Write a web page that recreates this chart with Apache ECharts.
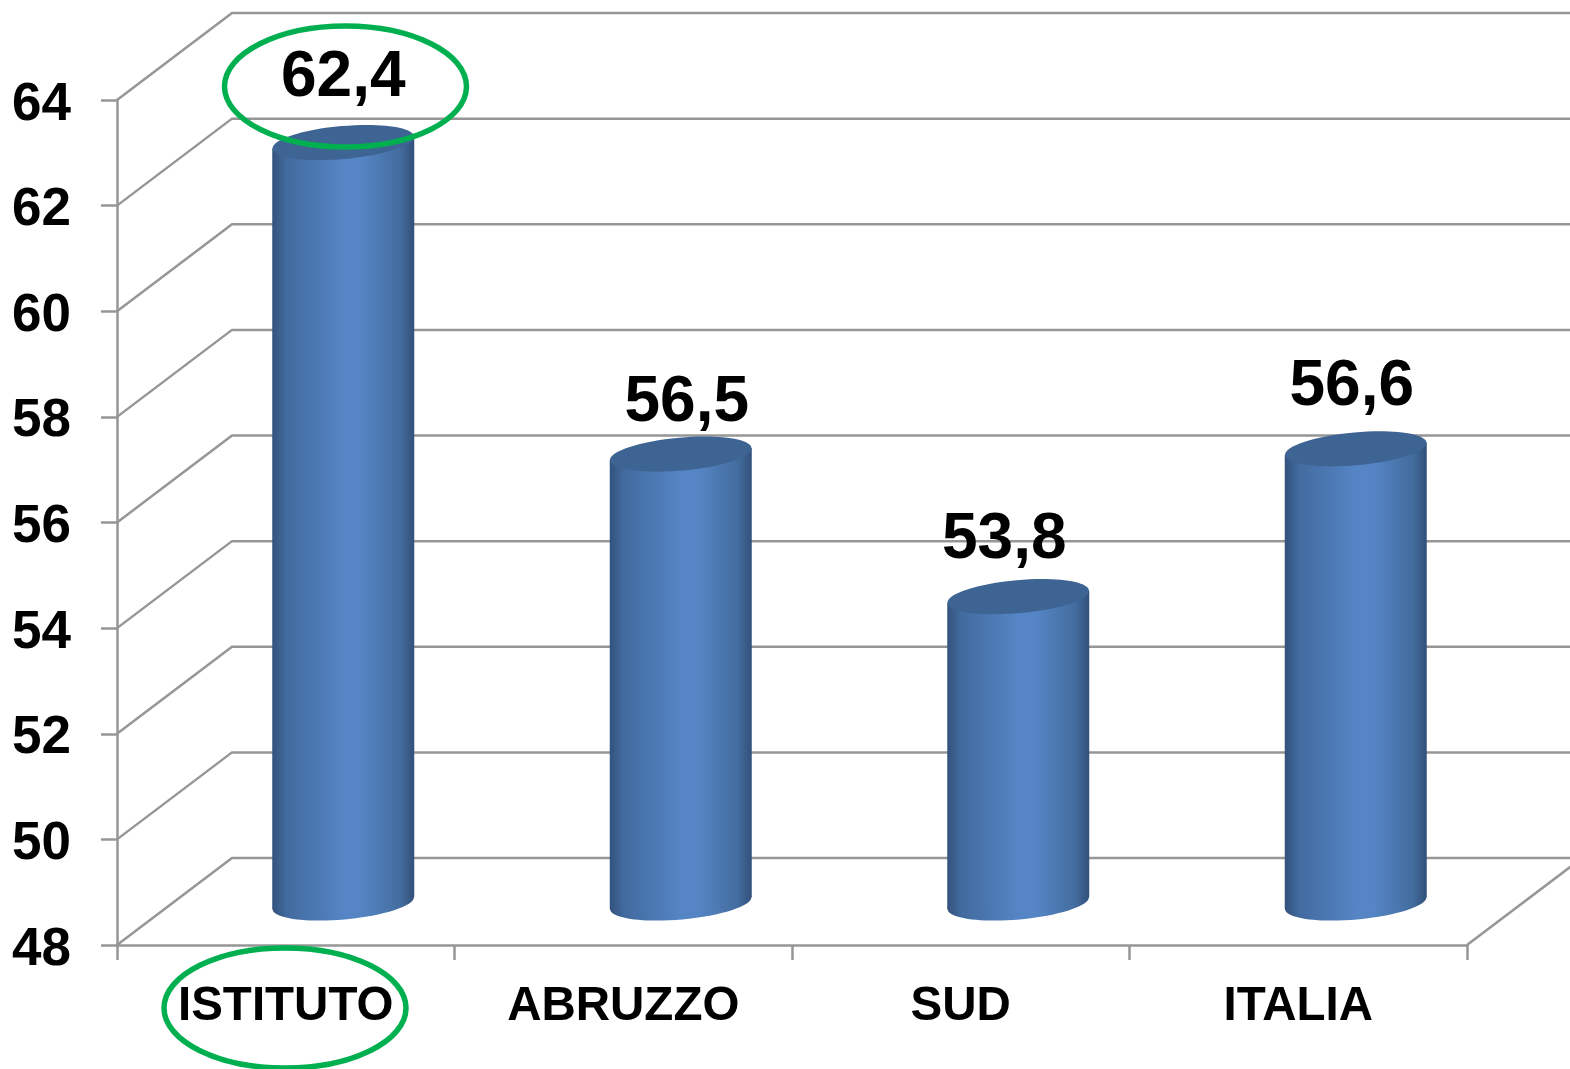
<!DOCTYPE html>
<html>
<head>
<meta charset="utf-8">
<style>html,body{margin:0;padding:0;background:#fff}#c{width:1570px;height:1069px}</style>
<script src="https://cdn.jsdelivr.net/npm/echarts@6/dist/echarts.min.js"></script>
</head>
<body>
<div id="c"></div>
<script>
const categories = ['ISTITUTO', 'ABRUZZO', 'SUD', 'ITALIA'];
const values = [62.4, 56.5, 53.8, 56.6];
const yTicks = [48, 50, 52, 54, 56, 58, 60, 62, 64];
const labelShiftX = [0, 6, -14, -4];
const labelShiftY = [-64, -51, -56, -61];

const FONT = '"Liberation Sans", Arial, sans-serif';
const GRID = '#969696';
const DEPTH_X = 115, DEPTH_Y = -87;
const BAR_DX = 57.5, BAR_DY = -42;
const RX = 71, RY = 16.5, TILT = 5 * Math.PI / 180;

const sideGradient = () => new echarts.graphic.LinearGradient(0, 0, 1, 0, [
  { offset: 0, color: '#33527d' },
  { offset: 0.1, color: '#426b9f' },
  { offset: 0.5, color: '#5585c5' },
  { offset: 0.62, color: '#5585c5' },
  { offset: 0.9, color: '#436d9f' },
  { offset: 1, color: '#32507a' }
]);

function renderWall(params, api) {
  const cs = params.coordSys;
  const y = api.coord([0, api.value(1)])[1];
  const x0 = cs.x, x1 = cs.x + DEPTH_X, x2 = cs.x + cs.width + DEPTH_X, y1 = y + DEPTH_Y;
  const style = { stroke: GRID, lineWidth: 2.5, fill: null };
  const children = [
    { type: 'polyline', shape: { points: [[x0, y], [x1, y1], [x2, y1]] }, style: style }
  ];
  if (api.value(1) === yTicks[0]) {
    children.push({
      type: 'line',
      shape: { x1: cs.x + cs.width, y1: y, x2: x2, y2: y1 },
      style: style
    });
  }
  return { type: 'group', children: children };
}

function renderBar(params, api) {
  const idx = api.value(0);
  const v = api.value(1);
  const top = api.coord([idx, v]);
  const base = api.coord([idx, yTicks[0]]);
  const cx = top[0] + BAR_DX;
  const ty = top[1] + BAR_DY;
  const by = base[1] + BAR_DY;
  const off = 6;
  const ellipse = (y, fill) => ({
    type: 'group', x: cx, y: y, rotation: TILT,
    children: [{ type: 'ellipse', shape: { cx: 0, cy: 0, rx: RX, ry: RY }, style: { fill: fill } }]
  });
  return {
    type: 'group',
    children: [
      ellipse(by, sideGradient()),
      {
        type: 'polygon',
        shape: { points: [[cx - RX, ty + off], [cx + RX, ty - off], [cx + RX, by - off], [cx - RX, by + off]] },
        style: { fill: sideGradient() }
      },
      ellipse(ty, '#3e6494'),
      {
        type: 'text',
        style: {
          x: cx + labelShiftX[idx],
          y: ty + labelShiftY[idx],
          text: v.toFixed(1).replace('.', ','),
          font: 'bold 64px ' + FONT,
          fill: '#000',
          align: 'center',
          verticalAlign: 'middle'
        }
      }
    ]
  };
}

const chart = echarts.init(document.getElementById('c'), null, { renderer: 'canvas' });
chart.setOption({
  animation: false,
  backgroundColor: '#fff',
  grid: { left: 117, right: 103, top: 100, bottom: 124, containLabel: false },
  xAxis: {
    type: 'category',
    data: categories,
    boundaryGap: true,
    axisLine: { show: true, lineStyle: { color: GRID, width: 2.5 } },
    axisTick: { show: true, length: 15, alignWithLabel: false, lineStyle: { color: GRID, width: 2.5 } },
    axisLabel: { color: '#000', fontFamily: FONT, fontWeight: 'bold', fontSize: 47.5, margin: 38, interval: 0 },
    splitLine: { show: false }
  },
  yAxis: {
    type: 'value',
    min: 48,
    max: 64,
    interval: 2,
    axisLine: { show: true, lineStyle: { color: GRID, width: 2.5 } },
    axisTick: { show: true, length: 16, lineStyle: { color: GRID, width: 2.5 } },
    axisLabel: { color: '#000', fontFamily: FONT, fontWeight: 'bold', fontSize: 53, margin: 46, verticalAlign: 'top', lineHeight: 10 },
    splitLine: { show: false }
  },
  series: [
    {
      type: 'custom', clip: false, z: 1, silent: true,
      encode: { x: 0, y: 1 },
      data: yTicks.map(t => [0, t]),
      renderItem: renderWall
    },
    {
      type: 'custom', clip: false, z: 2, silent: true,
      encode: { x: 0, y: 1 },
      data: values.map((v, i) => [i, v]),
      renderItem: renderBar
    }
  ],
  graphic: [
    { type: 'ellipse', z: 10, silent: true, shape: { cx: 345.5, cy: 86.5, rx: 121, ry: 60.5 }, style: { fill: null, stroke: '#00b050', lineWidth: 5.5 } },
    { type: 'ellipse', z: 10, silent: true, shape: { cx: 285, cy: 1008, rx: 121, ry: 60 }, style: { fill: null, stroke: '#00b050', lineWidth: 5.5 } }
  ]
});
</script>
</body>
</html>
